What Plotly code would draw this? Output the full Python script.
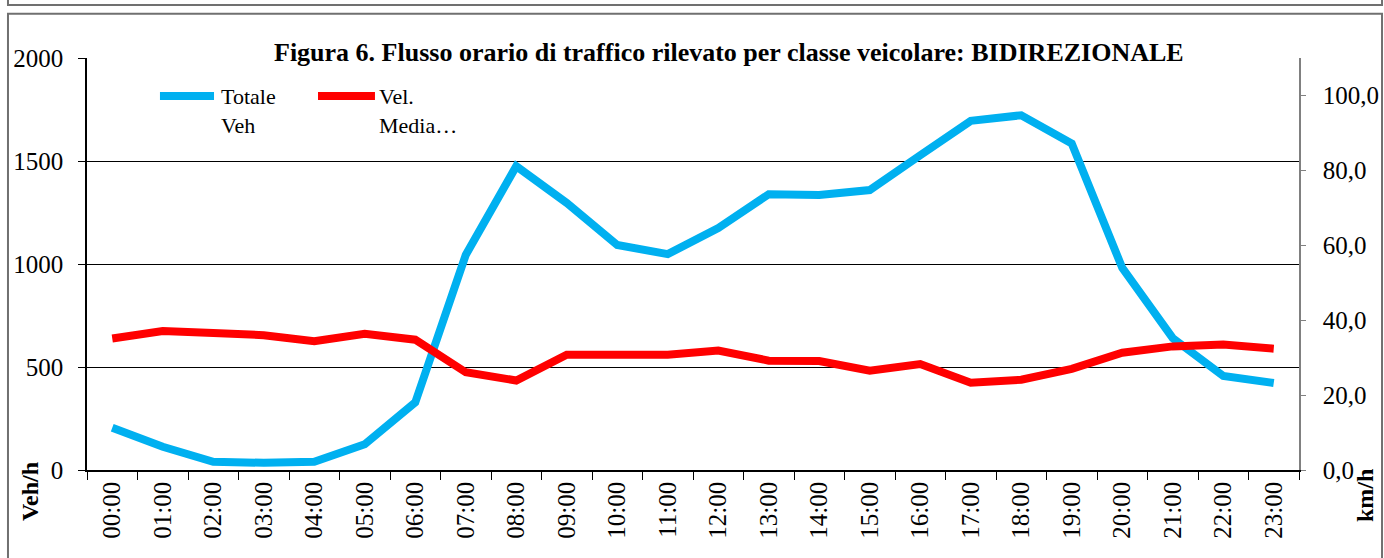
import plotly.graph_objects as go

hours = [f"{h:02d}:00" for h in range(24)]

# veicoli totali per ora (asse sinistro, Veh/h)
totale_veh = [205, 113, 40, 35, 40, 125, 328, 1044, 1475, 1296, 1092, 1048,
              1174, 1339, 1335, 1359, 1528, 1695, 1722, 1585, 981, 640, 457, 422]

# velocita media (asse destro, km/h)
vel_media = [35.1, 37.1, 36.6, 36.0, 34.4, 36.4, 34.8, 26.1, 23.9, 30.8, 30.8, 30.8,
             31.9, 29.2, 29.1, 26.5, 28.3, 23.3, 24.1, 27.0, 31.3, 33.0, 33.5, 32.4]

FONT = "Liberation Serif"
BLUE = "#00B0F0"
RED = "#FF0000"
BOX = "#707070"

fig = go.Figure()

fig.add_trace(go.Scatter(
    x=hours, y=totale_veh, mode="lines", name="Totale Veh",
    line=dict(color=BLUE, width=8), yaxis="y",
))
fig.add_trace(go.Scatter(
    x=hours, y=vel_media, mode="lines", name="Vel. Media…",
    line=dict(color=RED, width=8), yaxis="y2",
))

fig.update_layout(
    width=1384, height=558,
    margin=dict(l=87, r=85, t=58, b=88, autoexpand=False),
    paper_bgcolor="white", plot_bgcolor="white",
    font=dict(family=FONT, size=25, color="black"),
    separators=",.",
    showlegend=False,
    xaxis=dict(
        type="category", range=[-0.5, 23.5], tickson="boundaries",
        ticks="outside", ticklen=8, tickcolor="black", tickwidth=1,
        tickangle=-90, tickfont=dict(size=25), automargin=False,
        showline=True, linecolor="black", linewidth=1.5,
        showgrid=False, zeroline=False,
    ),
    yaxis=dict(
        range=[0, 2000], dtick=500, tickformat="d", automargin=False,
        ticks="outside", ticklen=7, tickcolor="black",
        showline=True, linecolor="black", linewidth=1.5,
        showgrid=True, gridcolor="black", gridwidth=1, zeroline=False,
        ticklabelstandoff=10,
    ),
    yaxis2=dict(
        overlaying="y", side="right", range=[0, 110], tick0=0, dtick=20,
        tickformat=".1f", ticks="outside", ticklen=5, tickcolor="#808080",
        showline=True, linecolor="#808080", linewidth=1.5, automargin=False,
        showgrid=False, zeroline=False, ticklabelstandoff=12,
    ),
    shapes=[
        # cornice del riquadro precedente e del grafico
        dict(type="rect", xref="paper", yref="paper",
             x0=-0.0652, x1=1.0685, y0=1.1286, y1=1.25,
             line=dict(color=BOX, width=2)),
        dict(type="rect", xref="paper", yref="paper",
             x0=-0.0652, x1=1.0685, y0=-0.25, y1=1.1075,
             line=dict(color=BOX, width=2)),
        # campioni della legenda
        dict(type="line", xref="paper", yref="paper",
             x0=0.0602, x1=0.1048, y0=0.9078, y1=0.9078,
             line=dict(color=BLUE, width=8)),
        dict(type="line", xref="paper", yref="paper",
             x0=0.1906, x1=0.2376, y0=0.9078, y1=0.9078,
             line=dict(color=RED, width=8)),
    ],
    annotations=[
        dict(text="<b>Figura 6. Flusso orario di traffico rilevato per classe veicolare: BIDIREZIONALE</b>",
             xref="paper", yref="paper", x=0.5293, y=1.014, xanchor="center", yanchor="middle",
             showarrow=False, font=dict(family=FONT, size=26)),
        dict(text="Totale<br>Veh", xref="paper", yref="paper", x=0.1097, y=0.9393,
             xanchor="left", yanchor="top", align="left", showarrow=False,
             borderpad=0, font=dict(family=FONT, size=22)),
        dict(text="Vel.<br>Media…", xref="paper", yref="paper", x=0.2401, y=0.9393,
             xanchor="left", yanchor="top", align="left", showarrow=False,
             borderpad=0, font=dict(family=FONT, size=22)),
        dict(text="<b>Veh/h</b>", textangle=-90, xref="paper", yref="paper",
             x=-0.047, y=-0.0534, xanchor="center", yanchor="middle",
             showarrow=False, font=dict(family=FONT, size=24)),
        dict(text="<b>km/h</b>", textangle=-90, xref="paper", yref="paper",
             x=1.0545, y=-0.0631, xanchor="center", yanchor="middle",
             showarrow=False, font=dict(family=FONT, size=24)),
    ],
)

# la pagina deve partire da 0,0 come l'immagine di riferimento
fig.write_html("out.html", config={"displayModeBar": False},
               post_script="document.body.style.margin = '0';")
